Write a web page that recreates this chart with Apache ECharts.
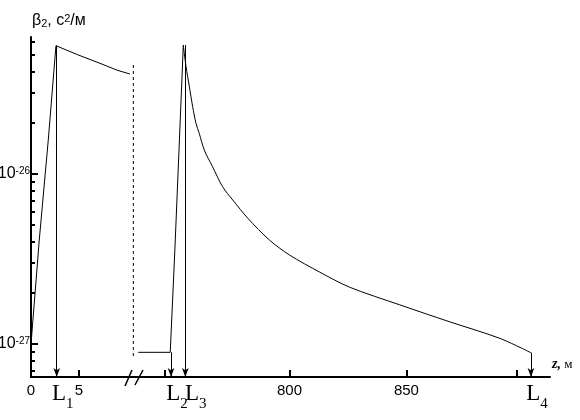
<!DOCTYPE html>
<html><head><meta charset="utf-8">
<script src="https://cdn.jsdelivr.net/npm/echarts@6/dist/echarts.min.js"></script>
<style>html,body{margin:0;padding:0;background:#fff}#c{width:580px;height:420px}</style>
</head><body><div id="c"></div>
<script>
// ---- data (z in m, beta2 in s^2/m) ----
const leftZ    = [0, 0.86, 1.80, 2.60, 4.76, 7.19, 8.93, 10.31];
const leftBeta = [1.0e-27, 4.09e-27, 1.585e-26, 5.69e-26, 5.06e-26, 4.48e-26, 4.09e-26, 3.875e-26];
// right part: flat section + steep rise up to the peak
const riseZ    = [739.6, 752.0, 753.8, 756.4, 757.1];
const riseBeta = [8.94e-28, 8.94e-28, 3.57e-27, 3.12e-26, 5.74e-26];
// right part: decay from the peak
const decayZ    = [757.1, 758.2, 759.5, 760.8, 762.1, 763.4, 765.4, 768.7, 772.7, 776.8, 782.9, 791.7, 800, 812.6, 825.3, 847.1, 869.4, 892.2, 906.7];
const decayBeta = [5.74e-26, 4.28e-26, 3.26e-26, 2.49e-26, 1.99e-26, 1.735e-26, 1.384e-26, 1.104e-26, 8.42e-27, 7.03e-27, 5.49e-27, 4.09e-27, 3.34e-27, 2.65e-27, 2.16e-27, 1.70e-27, 1.35e-27, 1.08e-27, 8.89e-28];
const dashZ = [10.66, 10.66];
const dashBeta = [4.38e-26, 8.27e-28];
const markNames = ['1', '2', '3', '4'];
const markZ   = [2.68, 752.3, 757.9, 906.7];
const markTop = [5.69e-26, 8.94e-28, 5.74e-26, 8.89e-28];
const leftTicks = [0, 5];
const leftTickLabels = [0, 5];
const rightTicks = [750, 800, 850, 900];
const rightTickLabels = [800, 850];
const yMajor = [1e-27, 1e-26];
const yMinor = [7e-28, 8e-28, 9e-28, 2e-27, 3e-27, 4e-27, 5e-27, 6e-27, 7e-27, 8e-27, 9e-27, 2e-26, 3e-26, 4e-26, 5e-26, 6e-26];
const yRange = [6.4e-28, 6.4e-26];
const leftRange = [0, 10.73];
const rightRange = [738, 915.7];

// ---- chart ----
const lg = Math.log10;
const K = '#000';
const sans = 'Liberation Sans';
const serif = 'Liberation Serif';

function lData(zs, bs, xf) { return zs.map((z, i) => [xf(z), lg(bs[i])]); }
const idL = z => z;

function markLineFor(idxs, xf) {
  return {
    silent: true, animation: false,
    symbol: ['none', 'arrow'],
    label: {show: false},
    lineStyle: {color: K, width: 1, type: 'solid'},
    emphasis: {disabled: true},
    data: idxs.map(i => [
      {coord: [xf(markZ[i]), lg(markTop[i])], symbol: 'none'},
      {coord: [xf(markZ[i]), lg(yRange[0])], symbol: 'arrow', symbolSize: [5, 9]}
    ])
  };
}

function Lrich(padLeft) {
  return {
    L: {fontFamily: serif, fontSize: 23, color: K, lineHeight: 24, verticalAlign: 'top', padding: [0, 0, 0, padLeft]},
    s: {fontFamily: serif, fontSize: 15, color: K, lineHeight: 30, verticalAlign: 'bottom'}
  };
}
function Lformatter(xf) {
  return function (v) {
    let i = markZ.findIndex(z => Math.abs(xf(z) - v) < 1e-6);
    if (i < 0) return '';
    return '{L|L}{s|' + markNames[i] + '}';
  };
}
function Laxis(gi, range, xf, idxs, padLeft) {
  return {type: 'value', gridIndex: gi, min: range[0], max: range[1], position: 'bottom', offset: 0,
    splitLine: {show: false}, axisLine: {show: false}, axisTick: {show: false},
    axisLabel: {show: true, customValues: idxs.map(i => xf(markZ[i])), margin: 5, formatter: Lformatter(xf),
      rich: Lrich(padLeft), interval: 0, hideOverlap: false, showMinLabel: true, showMaxLabel: true}};
}

const yMain = gi => ({
  type: 'value', gridIndex: gi, min: lg(yRange[0]), max: lg(yRange[1]), position: 'left',
  splitLine: {show: false}
});

const option = {
  animation: false,
  backgroundColor: '#fff',
  grid: [
    {left: 31, top: 37, width: 103, bottom: 43, outerBoundsMode: 'none', containLabel: false},
    {left: 134, top: 37, right: 30, bottom: 43, outerBoundsMode: 'none', containLabel: false}
  ],
  xAxis: [
    {type: 'value', gridIndex: 0, min: leftRange[0], max: leftRange[1], position: 'bottom',
     splitLine: {show: false},
     axisLine: {show: true, lineStyle: {color: K, width: 2}},
     axisTick: {show: true, inside: true, length: 7, lineStyle: {color: K, width: 2}, customValues: leftTicks},
     axisLabel: {show: true, customValues: leftTickLabels, color: K, fontFamily: sans, fontSize: 15, margin: 6,
                 showMinLabel: true, showMaxLabel: true, formatter: v => String(Math.round(v))}},
    Laxis(0, leftRange, idL, [0], 12),
    {type: 'value', gridIndex: 1, min: lg(rightRange[0]), max: lg(rightRange[1]), position: 'bottom',
     splitLine: {show: false},
     name: '{z|z,} {m|м}', nameLocation: 'end', nameGap: 2,
     nameTextStyle: {rich: {
        z: {fontFamily: serif, fontStyle: 'italic', fontWeight: 'bold', fontSize: 14, color: K},
        m: {fontFamily: serif, fontSize: 13, color: K}
     }, align: 'left', verticalAlign: 'middle', padding: [0, 0, 25, 0]},
     axisLine: {show: true, lineStyle: {color: K, width: 2}},
     axisTick: {show: true, inside: true, length: 7, lineStyle: {color: K, width: 2}, customValues: rightTicks.map(lg)},
     axisLabel: {show: true, customValues: rightTickLabels.map(lg), color: K, fontFamily: sans, fontSize: 15, margin: 6,
                 formatter: v => String(Math.round(Math.pow(10, v)))}},
    Laxis(1, rightRange.map(lg), lg, [1, 3], 12),
    Laxis(1, rightRange.map(lg), lg, [2], 21)
  ],
  yAxis: [
    Object.assign(yMain(0), {
      name: 'β{sb|2}, c{sp|2}/м', nameLocation: 'end', nameGap: 8,
      nameTextStyle: {align: 'left', verticalAlign: 'bottom', fontFamily: sans, fontSize: 16, color: K, padding: [0, 0, 0, 1],
        rich: {
          sb: {fontFamily: sans, fontSize: 11, color: K, verticalAlign: 'bottom', lineHeight: 11, padding: [10, 0, 0, 0]},
          sp: {fontFamily: sans, fontSize: 11, color: K, verticalAlign: 'top', lineHeight: 11, padding: [0, 0, 10, 0]}
        }},
      axisLine: {show: true, lineStyle: {color: K, width: 2}},
      axisTick: {show: true, inside: true, length: 7, lineStyle: {color: K, width: 2}, customValues: yMajor.map(lg)},
      axisLabel: {show: true, customValues: yMajor.map(lg), margin: 1, color: K, fontFamily: sans, fontSize: 16,
        formatter: v => '{b|10}{p|' + Math.round(v) + '}',
        rich: {
          b: {fontFamily: sans, fontSize: 16, color: K, lineHeight: 16, verticalAlign: 'bottom'},
          p: {fontFamily: sans, fontSize: 10, color: K, lineHeight: 10, verticalAlign: 'top', padding: [0, 0, 10, 0]}
        }}
    }),
    Object.assign(yMain(0), {
      axisLine: {show: false},
      axisTick: {show: true, inside: true, length: 4, lineStyle: {color: K, width: 2}, customValues: yMinor.map(lg)},
      axisLabel: {show: false}
    }),
    Object.assign(yMain(1), {axisLine: {show: false}, axisTick: {show: false}, axisLabel: {show: false}})
  ],
  series: [
    {type: 'line', xAxisIndex: 0, yAxisIndex: 0, data: lData(leftZ, leftBeta, idL), showSymbol: false, symbol: 'none',
     lineStyle: {color: K, width: 1}, silent: true, clip: false, markLine: markLineFor([0], idL)},
    {type: 'line', xAxisIndex: 0, yAxisIndex: 0, data: lData(dashZ, dashBeta, idL), showSymbol: false, symbol: 'none',
     lineStyle: {color: K, width: 1, type: [3, 3]}, silent: true},
    {type: 'line', xAxisIndex: 2, yAxisIndex: 2, data: lData(riseZ, riseBeta, lg), showSymbol: false, symbol: 'none',
     lineStyle: {color: K, width: 1}, silent: true, clip: false, markLine: markLineFor([1, 2, 3], lg)},
    {type: 'line', xAxisIndex: 2, yAxisIndex: 2, data: lData(decayZ, decayBeta, lg), showSymbol: false, symbol: 'none',
     smooth: 0.3,
     lineStyle: {color: K, width: 1}, silent: true, clip: false}
  ],
  graphic: [
    {type: 'line', shape: {x1: 125, y1: 386, x2: 132, y2: 370}, style: {stroke: K, lineWidth: 1.5}, silent: true},
    {type: 'line', shape: {x1: 135, y1: 385, x2: 143, y2: 370}, style: {stroke: K, lineWidth: 1.5}, silent: true}
  ]
};
const chart = echarts.init(document.getElementById('c'));
chart.setOption(option);
</script>
</body></html>
